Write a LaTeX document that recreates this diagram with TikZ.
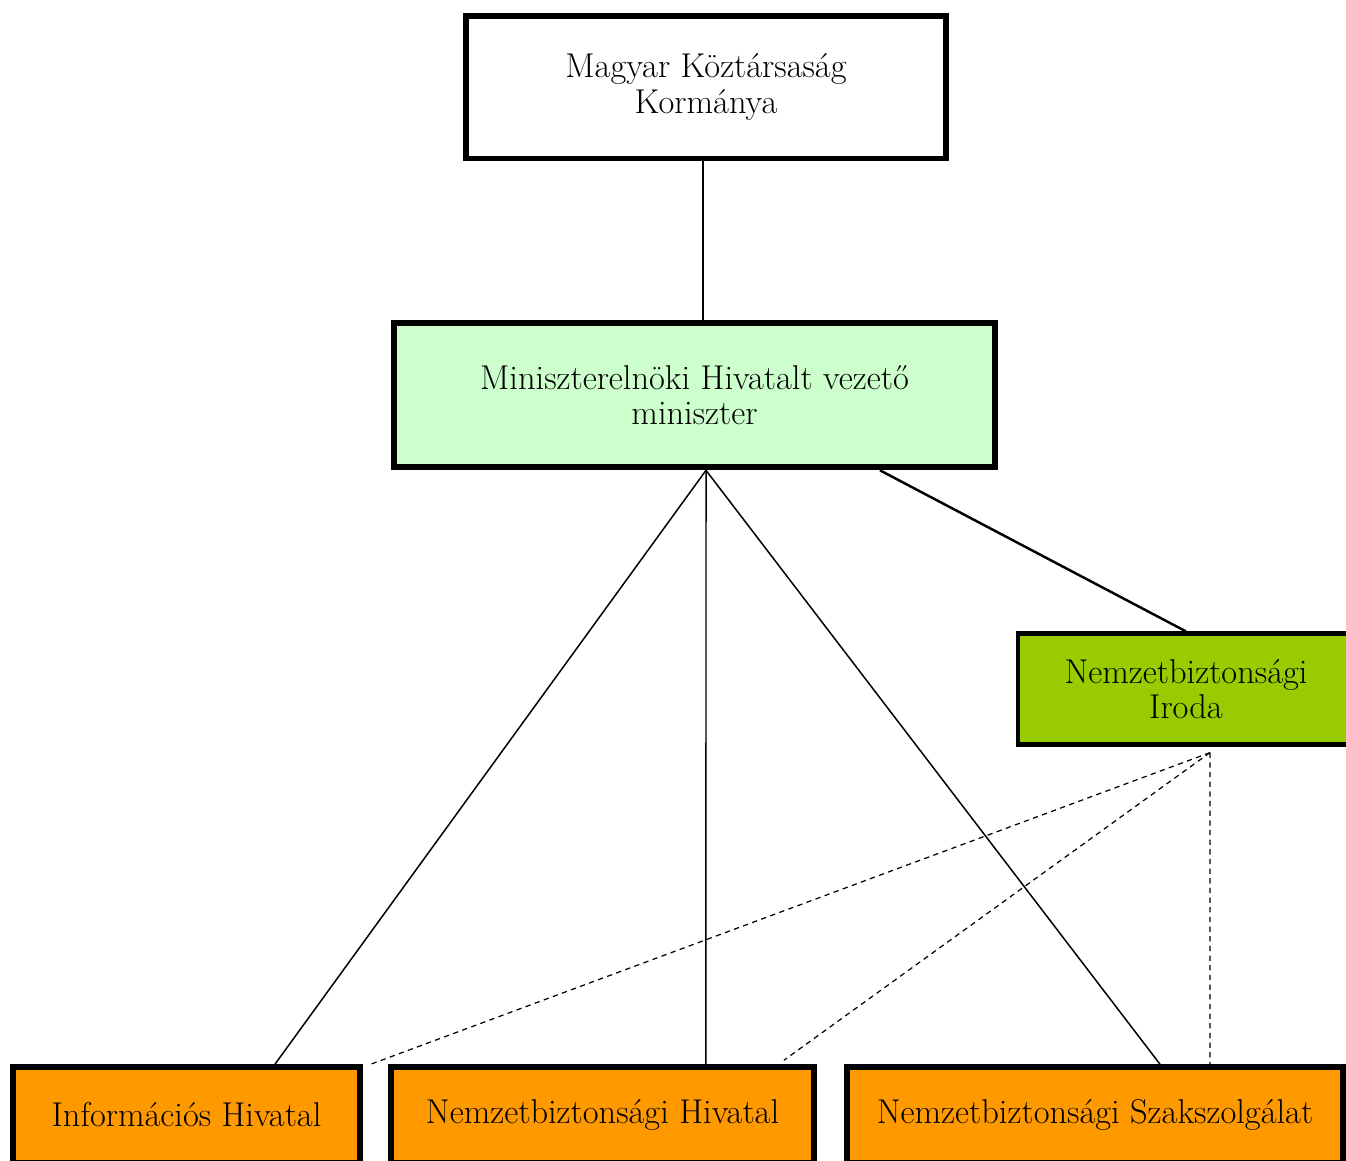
\documentclass[tikz,border=0pt]{standalone}
\usepackage{tikz}
\usetikzlibrary{calc}

\definecolor{mintgreen}{HTML}{CCFFCC}
\definecolor{limegreen}{HTML}{99CC00}
\definecolor{orangebox}{HTML}{FF9900}

\begin{document}
\begin{tikzpicture}[x=0.02cm,y=-0.02cm,
  orgbox/.style={draw=black,rectangle,align=center,inner sep=0pt,
    font=\fontsize{19.6}{20}\selectfont},
  link/.style={line width=0.85pt},
  dashlink/.style={line width=0.7pt,dash pattern=on 3pt off 2.5pt}]
 \useasboundingbox (0,0) rectangle (1346,1160);
 % top level
 \node[orgbox,line width=3.4pt,minimum width=9.6cm,minimum height=2.86cm]
   (korm) at (706,87) {Magyar Köztársaság\\Kormánya};
 \node[orgbox,fill=mintgreen,line width=3.8pt,minimum width=12.02cm,minimum height=2.88cm]
   (miniszter) at (694.5,395) {Miniszterelnöki Hivatalt vezető\\miniszter};
 \node[orgbox,fill=limegreen,line width=2.4pt,minimum width=6.72cm,minimum height=2.22cm]
   (iroda) at (1186,689) {Nemzetbiztonsági\\Iroda};
 % services
 \node[orgbox,fill=orangebox,line width=3.2pt,minimum width=6.94cm,minimum height=1.92cm]
   (info) at (186.5,1115) {Információs Hivatal};
 \node[orgbox,fill=orangebox,line width=3.2pt,minimum width=8.46cm,minimum height=1.92cm]
   (nbh) at (602.5,1115) {Nemzetbiztonsági Hivatal};
 \node[orgbox,fill=orangebox,line width=3.2pt,minimum width=9.92cm,minimum height=1.92cm]
   (nbsz) at (1095,1115) {Nemzetbiztonsági Szakszolgálat};
 \coordinate (hub) at ([xshift=0.23cm]miniszter.south);
 % lines
 \draw[link] ([xshift=-0.06cm]korm.south) -- ([xshift=-0.06cm]korm.south |- miniszter.north);
 \draw[link] (hub) -- ([xshift=1.77cm]info.north);
 \draw[link] (hub) -- ([xshift=2.07cm]nbh.north);
 \draw[link] (hub) -- ([xshift=1.3cm]nbsz.north);
 \draw[line width=1.4pt] ([xshift=3.71cm]miniszter.south) -- (iroda.north);
 \draw[dashlink] ([xshift=0.48cm,yshift=-0.12cm]iroda.south) -- ([xshift=0.16cm]info.north east);
 \draw[dashlink] ([xshift=0.48cm,yshift=-0.12cm]iroda.south) -- ([xshift=3.63cm,yshift=0.08cm]nbh.north);
 \draw[dashlink] ([xshift=0.48cm,yshift=-0.12cm]iroda.south) -- ([xshift=2.3cm]nbsz.north);
\end{tikzpicture}
\end{document}
